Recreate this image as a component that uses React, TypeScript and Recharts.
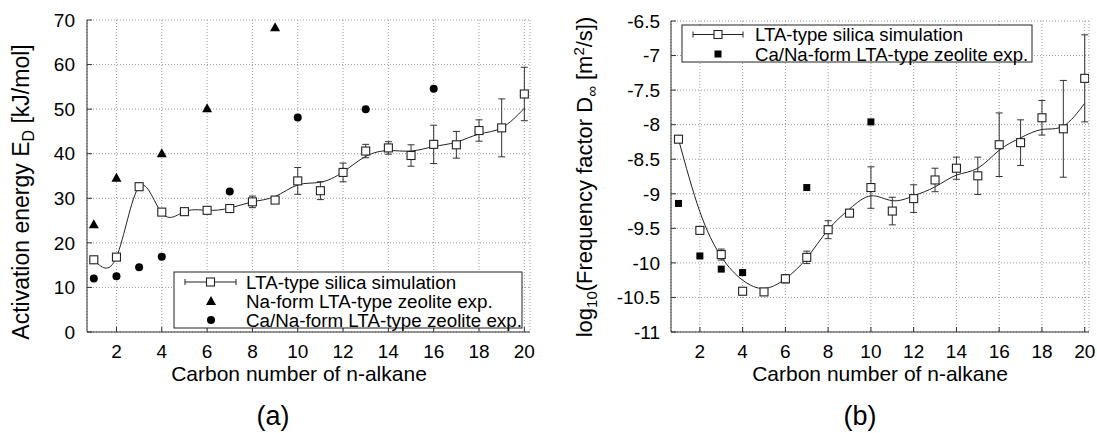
import React from 'react';
import { ComposedChart, Line, Scatter, XAxis, YAxis, CartesianGrid, ErrorBar } from 'recharts';

const FONT = '"Liberation Sans", Arial, Helvetica, sans-serif';

// ---------- data: panel (a) ----------
const carbon = [1, 2, 3, 4, 5, 6, 7, 8, 9, 10, 11, 12, 13, 14, 15, 16, 17, 18, 19, 20];
const activationSim = [16.2, 16.8, 32.6, 26.9, 27.0, 27.3, 27.7, 29.2, 29.6, 33.9, 31.7, 35.8, 40.6, 41.3, 39.6, 42.1, 42.0, 45.2, 45.8, 53.4];
const activationErr = [0.4, 0.4, 0.5, 0.5, 0.4, 0.4, 0.5, 1.3, 0.5, 3.0, 2.0, 2.1, 1.5, 1.4, 2.4, 4.3, 3.0, 2.4, 6.5, 6.0];
const activationFit = [16.2, 16.8, 32.6, 26.7, 27.0, 27.3, 27.8, 29.2, 30.4, 33.0, 33.6, 35.9, 39.4, 40.7, 40.6, 41.6, 42.6, 44.4, 45.8, 50.2];
const naCarbon = [1, 2, 4, 6, 9];
const naActivation = [24.2, 34.6, 40.1, 50.2, 68.4];
const caCarbonA = [1, 2, 3, 4, 7, 10, 13, 16];
const caActivation = [12.0, 12.5, 14.5, 16.9, 31.5, 48.1, 50.0, 54.6];

// ---------- data: panel (b) ----------
const freqSim = [-8.21, -9.53, -9.88, -10.41, -10.42, -10.23, -9.92, -9.52, -9.28, -8.91, -9.25, -9.07, -8.80, -8.63, -8.74, -8.29, -8.26, -7.90, -8.06, -7.33];
const freqErr = [0.05, 0.05, 0.08, 0.05, 0.05, 0.06, 0.09, 0.13, 0.05, 0.30, 0.20, 0.20, 0.17, 0.16, 0.27, 0.46, 0.33, 0.25, 0.70, 0.63];
const freqFit = [-8.21, -9.26, -9.91, -10.25, -10.37, -10.23, -9.93, -9.52, -9.22, -9.03, -9.10, -9.03, -8.90, -8.73, -8.63, -8.37, -8.19, -8.07, -8.02, -7.69];
const caCarbonB = [1, 2, 3, 4, 7, 10];
const caFreq = [-9.14, -9.90, -10.09, -10.14, -8.91, -7.96];

// ---------- ticks ----------
const xTicks = [2, 4, 6, 8, 10, 12, 14, 16, 18, 20];
const yTicksA = [0, 10, 20, 30, 40, 50, 60, 70];
const yTicksB = [-11, -10.5, -10, -9.5, -9, -8.5, -8, -7.5, -7, -6.5];

const fitA = carbon.map((x, i) => ({ x, fit: activationFit[i] }));
const simA = carbon.map((x, i) => ({ x, y: activationSim[i], err: activationErr[i] }));
const naA = naCarbon.map((x, i) => ({ x, y: naActivation[i] }));
const caA = caCarbonA.map((x, i) => ({ x, y: caActivation[i] }));

const fitB = carbon.map((x, i) => ({ x, fit: freqFit[i] }));
const simB = carbon.map((x, i) => ({ x, y: freqSim[i], err: freqErr[i] }));
const caB = caCarbonB.map((x, i) => ({ x, y: caFreq[i] }));

const NoShape = () => <g />;
const OpenSquare = (p: any) =>
  p.cx == null ? <g /> : <rect x={p.cx - 4} y={p.cy - 4} width={8} height={8} fill="#fff" stroke="#222" strokeWidth={1.1} />;
const FilledSquare = (p: any) =>
  p.cx == null ? <g /> : <rect x={p.cx - 3.5} y={p.cy - 3.5} width={7} height={7} fill="#000" />;
const Triangle = (p: any) =>
  p.cx == null ? <g /> : <polygon points={`${p.cx},${p.cy - 5} ${p.cx - 5},${p.cy + 4} ${p.cx + 5},${p.cy + 4}`} fill="#000" />;
const Dot = (p: any) => (p.cx == null ? <g /> : <circle cx={p.cx} cy={p.cy} r={4} fill="#000" />);

const tickStyle = { fontSize: 19, fill: '#000', fontFamily: FONT };
const lineStyle = { stroke: '#333', strokeWidth: 1 };

type PanelProps = {
  left: number;
  width: number;
  margin: { top: number; right: number; bottom: number; left: number };
  xDomain: [number, number];
  yDomain: [number, number];
  yTicks: number[];
  fit: any[];
  sim: any[];
  exps: { data: any[]; shape: any }[];
  yMargin: number;
};

function Panel(p: PanelProps) {
  return (
    <div style={{ position: 'absolute', left: p.left, top: 0 }}>
      <ComposedChart width={p.width} height={433} data={p.fit} margin={p.margin} style={{ fontFamily: FONT }}>
        <CartesianGrid xAxisId="b" yAxisId="l" stroke="#999" strokeDasharray="1 2" />
        <XAxis
          xAxisId="b"
          dataKey="x"
          type="number"
          domain={p.xDomain}
          allowDataOverflow
          ticks={xTicks}
          height={30}
          tickSize={-5}
          tickMargin={18}
          tick={tickStyle}
          tickLine={lineStyle}
          axisLine={lineStyle}
        />
        <XAxis
          xAxisId="t"
          orientation="top"
          dataKey="x"
          type="number"
          domain={p.xDomain}
          allowDataOverflow
          ticks={xTicks}
          height={0}
          tickSize={-5}
          tick={false}
          tickLine={lineStyle}
          axisLine={lineStyle}
        />
        <YAxis
          yAxisId="l"
          type="number"
          domain={p.yDomain}
          allowDataOverflow
          ticks={p.yTicks}
          width={60}
          tickSize={-5}
          tickMargin={p.yMargin}
          tick={tickStyle}
          tickLine={lineStyle}
          axisLine={lineStyle}
        />
        <YAxis
          yAxisId="r"
          orientation="right"
          type="number"
          domain={p.yDomain}
          allowDataOverflow
          ticks={p.yTicks}
          width={0}
          tickSize={-5}
          tick={false}
          tickLine={lineStyle}
          axisLine={lineStyle}
        />
        <Line
          xAxisId="b"
          yAxisId="l"
          dataKey="fit"
          type="natural"
          stroke="#222"
          strokeWidth={1}
          dot={false}
          activeDot={false}
          isAnimationActive={false}
        />
        {p.exps.map((e, i) => (
          <Scatter
            key={i}
            xAxisId="b"
            yAxisId="l"
            data={e.data}
            dataKey="y"
            shape={e.shape}
            isAnimationActive={false}
          />
        ))}
        <Scatter xAxisId="b" yAxisId="l" data={p.sim} dataKey="y" shape={NoShape} isAnimationActive={false}>
          <ErrorBar dataKey="err" direction="y" width={3.5} stroke="#333" strokeWidth={1} />
        </Scatter>
        <Scatter xAxisId="b" yAxisId="l" data={p.sim} dataKey="y" shape={OpenSquare} isAnimationActive={false} />
      </ComposedChart>
    </div>
  );
}

function LegendSample(x0: number, x1: number, y: number) {
  const xc = (x0 + x1) / 2;
  return (
    <g>
      <line x1={x0} y1={y} x2={x1} y2={y} stroke="#222" strokeWidth={1} />
      <line x1={x0} y1={y - 3} x2={x0} y2={y + 3} stroke="#222" strokeWidth={1} />
      <line x1={x1} y1={y - 3} x2={x1} y2={y + 3} stroke="#222" strokeWidth={1} />
      <rect x={xc - 4} y={y - 4} width={8} height={8} fill="#fff" stroke="#222" strokeWidth={1.1} />
    </g>
  );
}

export default function App() {
  return (
    <div style={{ position: 'absolute', left: 0, top: 0, width: 1097, height: 433, background: '#fff', fontFamily: FONT }}>
      <Panel
        left={0}
        width={560}
        margin={{ top: 20, right: 30, bottom: 71, left: 27 }}
        xDomain={[0.7, 20.25]}
        yDomain={[0, 70]}
        yTicks={yTicksA}
        fit={fitA}
        sim={simA}
        exps={[
          { data: naA, shape: Triangle },
          { data: caA, shape: Dot },
        ]}
        yMargin={17}
      />
      <Panel
        left={560}
        width={537}
        margin={{ top: 21, right: 8, bottom: 71, left: 51 }}
        xDomain={[0.65, 20.2]}
        yDomain={[-11, -6.5]}
        yTicks={yTicksB}
        fit={fitB}
        sim={simB}
        exps={[{ data: caB, shape: FilledSquare }]}
        yMargin={16}
      />
      <svg
        width={1097}
        height={433}
        style={{ position: 'absolute', left: 0, top: 0, pointerEvents: 'none' }}
        fontFamily={FONT}
      >
        {/* legend (a) */}
        <rect x={174} y={272} width={348} height={56} fill="#fff" stroke="#222" strokeWidth={1} />
        {LegendSample(185, 236, 282)}
        <text x={246} y={288.5} fontSize={18.8} fill="#000">LTA-type silica simulation</text>
        <polygon points="211,296 206,305 216,305" fill="#000" />
        <text x={246} y={307.5} fontSize={18.8} fill="#000">Na-form LTA-type zeolite exp.</text>
        <circle cx={211} cy={320} r={4} fill="#000" />
        <text x={246} y={326.5} fontSize={18.8} fill="#000">Ca/Na-form LTA-type zeolite exp.</text>

        {/* legend (b) */}
        <rect x={682} y={25} width={350} height={37} fill="#fff" stroke="#222" strokeWidth={1} />
        {LegendSample(693, 743, 34.5)}
        <text x={755} y={41} fontSize={18.6} fill="#000">LTA-type silica simulation</text>
        <rect x={714.5} y={50.5} width={7} height={7} fill="#000" />
        <text x={755} y={60.5} fontSize={18.6} fill="#000">Ca/Na-form LTA-type zeolite exp.</text>

        {/* axis titles */}
        <text transform="translate(29,192) rotate(-90)" textAnchor="middle" fontSize={23} fill="#000">
          Activation energy E<tspan fontSize={16} dy={5}>D</tspan>
          <tspan dy={-5}> [kJ/mol]</tspan>
        </text>
        <text transform="translate(592,177) rotate(-90)" textAnchor="middle" fontSize={22} fill="#000">
          log<tspan fontSize={15} dy={5}>10</tspan>
          <tspan dy={-5}>(Frequency factor D</tspan>
          <tspan fontSize={15} dy={5}>∞</tspan>
          <tspan dy={-5}> [m</tspan>
          <tspan fontSize={15} dy={-8}>2</tspan>
          <tspan dy={8}>/s])</tspan>
        </text>
        <text x={299} y={381} textAnchor="middle" fontSize={21} fill="#000">Carbon number of n-alkane</text>
        <text x={880} y={381} textAnchor="middle" fontSize={21} fill="#000">Carbon number of n-alkane</text>
        <text x={273} y={425} textAnchor="middle" fontSize={27} fill="#000">(a)</text>
        <text x={860} y={425} textAnchor="middle" fontSize={27} fill="#000">(b)</text>
      </svg>
    </div>
  );
}
